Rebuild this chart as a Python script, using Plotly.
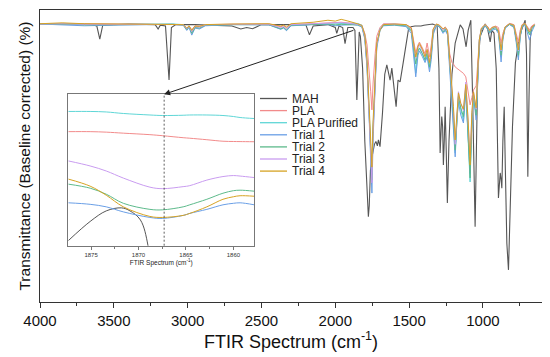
import plotly.graph_objects as go

# ---------------- main spectrum data ----------------
mah_wn = [4000, 3800, 3650, 3615, 3595, 3575, 3400, 3220, 3200, 3185, 3150, 3126, 3110, 3080,
          2950, 2700, 2640, 2600, 2560, 2500, 2200, 2175, 2150, 2050, 2000, 1990, 1975, 1950,
          1934, 1915, 1880, 1867, 1854, 1845, 1838, 1830, 1815, 1800, 1785, 1776, 1770, 1762,
          1750, 1735, 1725, 1715, 1708, 1697, 1680, 1665, 1651, 1640, 1629, 1617, 1605, 1588,
          1575, 1566, 1561, 1540, 1520, 1505, 1488, 1460, 1420, 1400, 1340, 1310, 1298, 1290,
          1284, 1279, 1273, 1268, 1262, 1256, 1250, 1241, 1230, 1210, 1188, 1170, 1154, 1135,
          1114, 1100, 1082, 1070, 1060, 1053, 1045, 1035, 1019, 985, 970, 951, 940, 925, 910,
          895, 889, 883, 877, 872, 865, 856, 848, 838, 827, 815, 800, 780, 760, 740, 714, 705,
          696, 688, 680, 669, 650]
mah_t = [95.2, 95.3, 95.0, 94.5, 90.0, 94.8, 95.2, 95.0, 93.5, 94.8, 94.5, 76.0, 94.0, 95.0,
         95.0, 94.5, 93.5, 94.0, 93.6, 95.0, 95.0, 91.5, 94.5, 95.0, 94.0, 92.0, 94.5, 94.0,
         88.5, 94.0, 94.0, 93.0, 69.2, 88.0, 92.5, 91.0, 80.0, 55.0, 35.0, 29.2, 33.0, 45.0,
         50.0, 54.0, 55.0, 53.5, 55.5, 53.2, 65.0, 78.0, 81.2, 79.0, 76.0, 80.1, 75.0, 66.9,
         76.0, 75.5, 75.4, 82.0, 89.0, 93.2, 94.3, 94.5, 94.5, 94.8, 95.2, 94.5, 80.0, 51.0,
         58.0, 63.5, 60.0, 46.9, 55.0, 66.9, 55.0, 33.9, 55.0, 78.0, 88.7, 92.5, 94.9, 93.5,
         87.4, 93.0, 96.5, 70.0, 40.0, 25.8, 50.0, 80.0, 90.9, 95.2, 94.0, 89.1, 93.0, 92.1, 80.0,
         35.6, 40.0, 44.2, 42.0, 39.0, 55.0, 66.9, 45.0, 20.0, 11.0, 35.0, 60.0, 82.0, 88.7, 93.0,
         96.5, 85.0, 42.9, 70.0, 90.0, 94.3, 94.8]

pla_wn = [4000, 3850, 3700, 3500, 3300, 3100, 3030, 3006, 2990, 2972, 2950, 2920, 2880, 2700,
          2450, 2370, 2350, 2330, 2300, 2150, 2050, 2000, 1960, 1920, 1880, 1850, 1820, 1800,
          1785, 1770, 1760, 1752, 1744, 1730, 1719, 1697, 1674, 1600, 1520, 1485, 1470, 1455,
          1440, 1430, 1410, 1392, 1378, 1362, 1350, 1337, 1315, 1295, 1270, 1255, 1240, 1225,
          1210, 1200, 1188, 1175, 1166, 1150, 1132, 1116, 1100, 1087, 1075, 1064, 1046, 1035,
          1024, 1010, 985, 965, 955, 940, 915, 895, 877, 865, 850, 820, 790, 775, 760, 748,
          735, 715, 700, 685, 670, 650]
pla_t = [95.2, 95.4, 95.3, 95.2, 95.2, 95.2, 95.0, 93.8, 94.5, 93.2, 94.6, 94.3, 95.0, 95.1,
         95.2, 94.3, 94.6, 93.9, 95.0, 95.3, 95.6, 95.5, 95.8, 95.6, 95.5, 95.3, 94.8, 92.0,
         88.0, 80.0, 72.0, 65.8, 75.0, 85.0, 91.0, 94.0, 95.3, 95.2, 95.0, 94.0, 90.0, 85.3,
         88.0, 89.0, 87.0, 85.0, 88.7, 84.0, 88.0, 93.5, 95.2, 94.8, 93.5, 94.2, 93.0, 85.0,
         82.0, 81.5, 80.5, 80.0, 79.5, 79.0, 78.3, 77.1, 72.0, 67.5, 70.0, 72.6, 74.0, 82.0,
         90.0, 93.8, 95.0, 94.2, 93.0, 94.0, 94.5, 94.0, 88.7, 92.0, 94.2, 95.4, 95.0, 92.0,
         89.0, 93.0, 95.0, 95.5, 94.5, 93.2, 94.5, 95.2]
plap_t = [95.2, 95.3, 95.0, 95.1, 95.1, 95.2, 95.0, 93.4, 94.2, 92.2, 94.2, 93.8, 94.8, 95.0,
          95.0, 93.5, 94.0, 93.0, 94.8, 95.1, 95.3, 95.2, 95.5, 95.4, 95.4, 95.4, 94.8, 91.0,
          82.0, 66.0, 53.0, 43.5, 60.0, 79.0, 88.0, 93.5, 95.0, 95.1, 94.8, 93.0, 87.0, 78.4,
          85.5, 87.0, 85.0, 82.5, 85.0, 80.0, 84.5, 92.5, 95.0, 94.5, 92.5, 93.5, 92.0, 82.0,
          70.0, 64.0, 51.0, 64.0, 70.0, 66.0, 62.0, 73.0, 58.0, 41.1, 62.0, 71.0, 64.0, 78.0,
          89.7, 93.5, 94.9, 93.6, 92.5, 93.5, 94.0, 92.5, 83.9, 90.5, 94.0, 95.2, 94.5, 90.0,
          83.9, 91.0, 94.5, 95.3, 93.5, 92.0, 93.8, 94.9]
t1_t = [95.2, 95.0, 94.6, 94.8, 95.0, 95.1, 94.8, 93.0, 94.0, 91.4, 93.8, 93.5, 94.6, 95.0,
        94.9, 93.4, 93.8, 92.9, 94.6, 95.0, 95.0, 94.6, 94.8, 94.9, 95.0, 94.8, 94.2, 90.0,
        80.0, 62.0, 47.0, 37.3, 56.0, 77.0, 87.0, 93.0, 94.6, 94.8, 94.3, 92.0, 85.0, 77.1,
        84.5, 86.0, 84.0, 82.0, 84.0, 78.8, 83.0, 91.5, 94.7, 94.2, 92.0, 93.0, 91.5, 80.0,
        67.0, 62.0, 49.7, 63.0, 68.5, 64.0, 61.3, 72.0, 56.0, 44.0, 61.0, 70.5, 62.3, 77.0,
        89.0, 93.0, 94.6, 93.0, 92.0, 93.0, 93.5, 92.0, 82.2, 90.0, 93.7, 95.0, 94.0, 89.0,
        82.9, 90.5, 94.0, 95.0, 92.0, 89.7, 92.5, 94.7]
t2_t = [95.2, 95.2, 94.9, 95.0, 95.1, 95.1, 94.9, 93.3, 94.3, 92.0, 94.0, 93.8, 94.8, 95.0,
        95.0, 93.6, 94.0, 93.2, 94.8, 95.1, 95.2, 94.9, 95.1, 95.0, 95.0, 94.9, 94.4, 90.5,
        81.0, 64.0, 50.0, 41.8, 59.0, 78.5, 88.0, 93.2, 94.8, 94.9, 94.6, 92.8, 86.5, 81.5,
        86.0, 87.0, 85.0, 83.0, 85.5, 80.5, 85.0, 92.5, 94.9, 94.4, 92.5, 93.5, 92.0, 81.5,
        69.0, 64.0, 52.0, 65.0, 70.5, 66.5, 63.5, 74.0, 57.0, 42.5, 62.0, 71.0, 64.0, 78.0,
        89.5, 93.4, 94.8, 93.4, 92.3, 93.4, 94.0, 92.5, 84.5, 90.5, 94.0, 95.1, 94.4, 90.0,
        84.5, 91.0, 94.5, 95.2, 93.0, 91.5, 93.5, 94.8]
t3_t = [95.2, 95.3, 95.1, 95.1, 95.2, 95.2, 95.0, 93.6, 94.4, 92.6, 94.3, 94.1, 94.9, 95.1,
        95.1, 94.0, 94.3, 93.6, 95.0, 95.3, 95.6, 95.5, 95.7, 95.5, 95.3, 95.1, 94.6, 90.8,
        81.5, 64.0, 50.0, 40.8, 58.0, 78.0, 88.0, 93.5, 95.1, 95.2, 94.9, 93.5, 88.0, 83.5,
        87.0, 88.0, 86.0, 84.0, 86.5, 82.0, 86.0, 93.0, 95.1, 94.7, 93.0, 94.0, 92.5, 83.0,
        71.0, 66.0, 54.0, 66.0, 72.0, 68.0, 65.5, 75.3, 60.0, 49.7, 64.0, 72.0, 66.0, 79.0,
        90.0, 93.7, 95.0, 93.8, 92.8, 93.8, 94.3, 93.0, 86.0, 91.0, 94.2, 95.3, 94.8, 91.0,
        86.0, 92.0, 94.8, 95.4, 93.8, 92.5, 94.0, 95.0]
t4_t = [95.3, 95.6, 95.3, 95.2, 95.3, 95.2, 95.0, 93.8, 94.6, 93.0, 94.5, 94.4, 95.0, 95.2,
        95.3, 94.5, 94.8, 94.2, 95.3, 95.8, 96.5, 96.2, 96.8, 96.3, 95.8, 95.3, 94.7, 91.5,
        83.0, 66.0, 54.0, 46.2, 62.0, 80.5, 88.7, 93.2, 95.0, 95.2, 95.0, 93.8, 89.0, 83.9,
        87.5, 88.5, 86.5, 84.0, 86.5, 82.0, 86.0, 93.5, 95.2, 94.8, 93.5, 94.0, 93.0, 83.5,
        73.0, 67.0, 55.5, 67.0, 71.6, 68.0, 66.0, 74.5, 62.0, 46.9, 65.0, 72.0, 66.5, 79.5,
        90.0, 93.8, 95.0, 94.0, 93.0, 94.0, 94.3, 93.0, 86.3, 91.0, 94.2, 95.3, 94.8, 91.0,
        86.3, 92.0, 94.8, 95.4, 93.8, 92.5, 94.0, 95.0]

# ---------------- inset (zoom around 1867 cm-1) data ----------------
ins_mah_wn = [1877.4, 1875.1, 1873.4, 1871.8, 1870.9, 1869.8, 1869.0, 1868.5]
ins_mah_v = [93.10, 93.48, 93.69, 93.75, 93.69, 93.51, 93.00, 92.00]
ins_wn = [1877.4, 1875.1, 1873.4, 1871.6, 1868.8, 1867.5, 1865.3, 1864.6, 1862.8, 1861.1, 1860.0, 1859.3, 1857.8]
ins_pla_v = [95.26, 95.26, 95.25, 95.23, 95.20, 95.18, 95.14, 95.13, 95.10, 95.07, 95.065, 95.063, 95.06]
ins_plap_v = [95.66, 95.66, 95.65, 95.62, 95.59, 95.58, 95.585, 95.59, 95.59, 95.58, 95.56, 95.54, 95.52]
ins_t1_v = [93.85, 93.82, 93.77, 93.67, 93.56, 93.54, 93.60, 93.64, 93.72, 93.81, 93.84, 93.85, 93.81]
ins_t2_v = [94.22, 94.14, 94.02, 93.84, 93.72, 93.71, 93.77, 93.81, 93.92, 94.04, 94.09, 94.10, 94.08]
ins_t3_v = [94.68, 94.58, 94.48, 94.34, 94.16, 94.13, 94.17, 94.19, 94.30, 94.37, 94.39, 94.38, 94.35]
ins_t4_v = [94.32, 94.18, 94.00, 93.77, 93.58, 93.56, 93.60, 93.64, 93.77, 93.92, 93.97, 93.99, 93.98]
ins_marker = 1867.3

names = ["MAH", "PLA", "PLA Purified", "Trial 1", "Trial 2", "Trial 3", "Trial 4"]
colors = ["#555555", "#f28b8b", "#5fd6d6", "#6a9fe6", "#5dba8b", "#c99cf0", "#d6a324"]
main_series = [(mah_wn, mah_t), (pla_wn, pla_t), (pla_wn, plap_t), (pla_wn, t1_t),
               (pla_wn, t2_t), (pla_wn, t3_t), (pla_wn, t4_t)]
inset_series = [(ins_mah_wn, ins_mah_v), (ins_wn, ins_pla_v), (ins_wn, ins_plap_v), (ins_wn, ins_t1_v),
                (ins_wn, ins_t2_v), (ins_wn, ins_t3_v), (ins_wn, ins_t4_v)]

FONT = "Liberation Sans, Arial, sans-serif"
# the page body has an 8px margin, so the figure is drawn at (8, 8) of the window
OFF = 8
W, H = 550 - OFF, 357 - OFF
PL, PT, PR, PB = 40, 10, 542, 302          # plot area in window pixels
ML, MT = PL - OFF, PT - OFF
MR, MB = W - (PR - OFF), H - (PB - OFF)
PW, PH = PR - PL, PB - PT

def px_to_paper_x(px):
    return (px - PL) / PW

def px_to_paper_y(py):
    return 1 - (py - PT) / PH

fig = go.Figure()
for (xs, ys), n, c in zip(main_series, names, colors):
    fig.add_trace(go.Scatter(x=xs, y=ys, mode="lines", name=n, showlegend=False,
                             line=dict(color=c, width=1.1 if n == "MAH" else 1.0),
                             xaxis="x", yaxis="y"))
for (xs, ys), n, c in zip(inset_series, names, colors):
    fig.add_trace(go.Scatter(x=xs, y=ys, mode="lines", name=n, showlegend=False,
                             line=dict(color=c, width=1.0, shape="spline"),
                             xaxis="x2", yaxis="y2"))

main_xrange = [4000, 600]
main_yrange = [0, 100]
ins_xrange = [1877.4, 1857.8]
ins_yrange = [93.0, 96.0]
ins_dom_x = [px_to_paper_x(68.3), px_to_paper_x(254.3)]
ins_dom_y = [px_to_paper_y(245.7), px_to_paper_y(94.3)]

fig.update_layout(
    width=W, height=H, margin=dict(l=ML, r=MR, t=MT, b=MB, autoexpand=False),
    paper_bgcolor="white", plot_bgcolor="white",
    font=dict(family=FONT, color="#111111"),
    xaxis=dict(range=main_xrange, domain=[0, 1], showgrid=False, zeroline=False, automargin=False,
               showline=True, mirror=True, linecolor="#333333", linewidth=1.3,
               ticks="outside", ticklen=5, tickwidth=1, tickcolor="#333333",
               tickvals=[4000, 3500, 3000, 2500, 2000, 1500, 1000],
               ticktext=["4000", "3500", "3000", "2500", "2000", "1500", "1000"],
               minor=dict(tickvals=[3750, 3250, 2750, 2250, 1750, 1250, 750], ticks="outside",
                          ticklen=3, tickcolor="#333333"),
               tickfont=dict(size=15, family=FONT, color="#111111"),
               title=dict(text="FTIR Spectrum (cm<sup>-1</sup>)", font=dict(size=18, family=FONT),
                          standoff=6)),
    yaxis=dict(range=main_yrange, domain=[0, 1], showgrid=False, zeroline=False, automargin=False,
               showline=True, mirror=True, linecolor="#333333", linewidth=1.3,
               showticklabels=False, ticks="",
               title=dict(text="Transmittance (Baseline corrected) (%)",
                          font=dict(size=15.5, family=FONT), standoff=4)),
    xaxis2=dict(range=ins_xrange, domain=ins_dom_x, anchor="y2", showgrid=False, zeroline=False,
                automargin=False,
                showline=True, mirror=True, linecolor="#777777", linewidth=1,
                ticks="outside", ticklen=3, tickwidth=0.8, tickcolor="#777777",
                tickvals=[1875, 1870, 1865, 1860], ticktext=["1875", "1870", "1865", "1860"],
                minor=dict(tickvals=[1872.5, 1867.5, 1862.5], ticks="outside", ticklen=2,
                           tickcolor="#777777"),
                tickfont=dict(size=6, family=FONT, color="#333333"),
                title=dict(text="FTIR Spectrum (cm<sup>-1</sup>)", font=dict(size=6.5, family=FONT,
                           color="#222222"), standoff=3)),
    yaxis2=dict(range=ins_yrange, domain=ins_dom_y, anchor="x2", showgrid=False, zeroline=False,
                automargin=False,
                showline=True, mirror=True, linecolor="#777777", linewidth=1,
                showticklabels=False, ticks=""),
)

# dashed marker line in inset
fig.add_shape(type="line", xref="x2", yref="y2 domain", x0=ins_marker, x1=ins_marker, y0=0, y1=1,
              line=dict(color="#333333", width=0.8, dash="2px,2px"))

# arrow from main spectrum to inset
head_paper_x = ins_dom_x[0] + (ins_marker - ins_xrange[0]) / (ins_xrange[1] - ins_xrange[0]) * (ins_dom_x[1] - ins_dom_x[0])
head_x = main_xrange[0] + head_paper_x * (main_xrange[1] - main_xrange[0])
head_y = main_yrange[0] + ins_dom_y[1] * (main_yrange[1] - main_yrange[0])
fig.add_annotation(x=head_x, y=head_y, xref="x", yref="y", ax=ins_marker, ay=93.2,
                   axref="x", ayref="y", showarrow=True, arrowhead=2, arrowsize=1.2,
                   arrowwidth=1, arrowcolor="#222222", standoff=0, text="")

# custom legend
leg_top_px, leg_step_px = 98.5, 12.1
for i, (n, c) in enumerate(zip(names, colors)):
    py = leg_top_px + i * leg_step_px
    yp = px_to_paper_y(py)
    fig.add_shape(type="line", xref="paper", yref="paper",
                  x0=px_to_paper_x(260), x1=px_to_paper_x(287), y0=yp, y1=yp,
                  line=dict(color=c, width=1.3))
    fig.add_annotation(x=px_to_paper_x(290), y=yp, xref="paper", yref="paper", text=n,
                       showarrow=False, xanchor="left", yanchor="middle",
                       font=dict(size=12, family=FONT, color="#222222"))

fig.write_html("out.html")
